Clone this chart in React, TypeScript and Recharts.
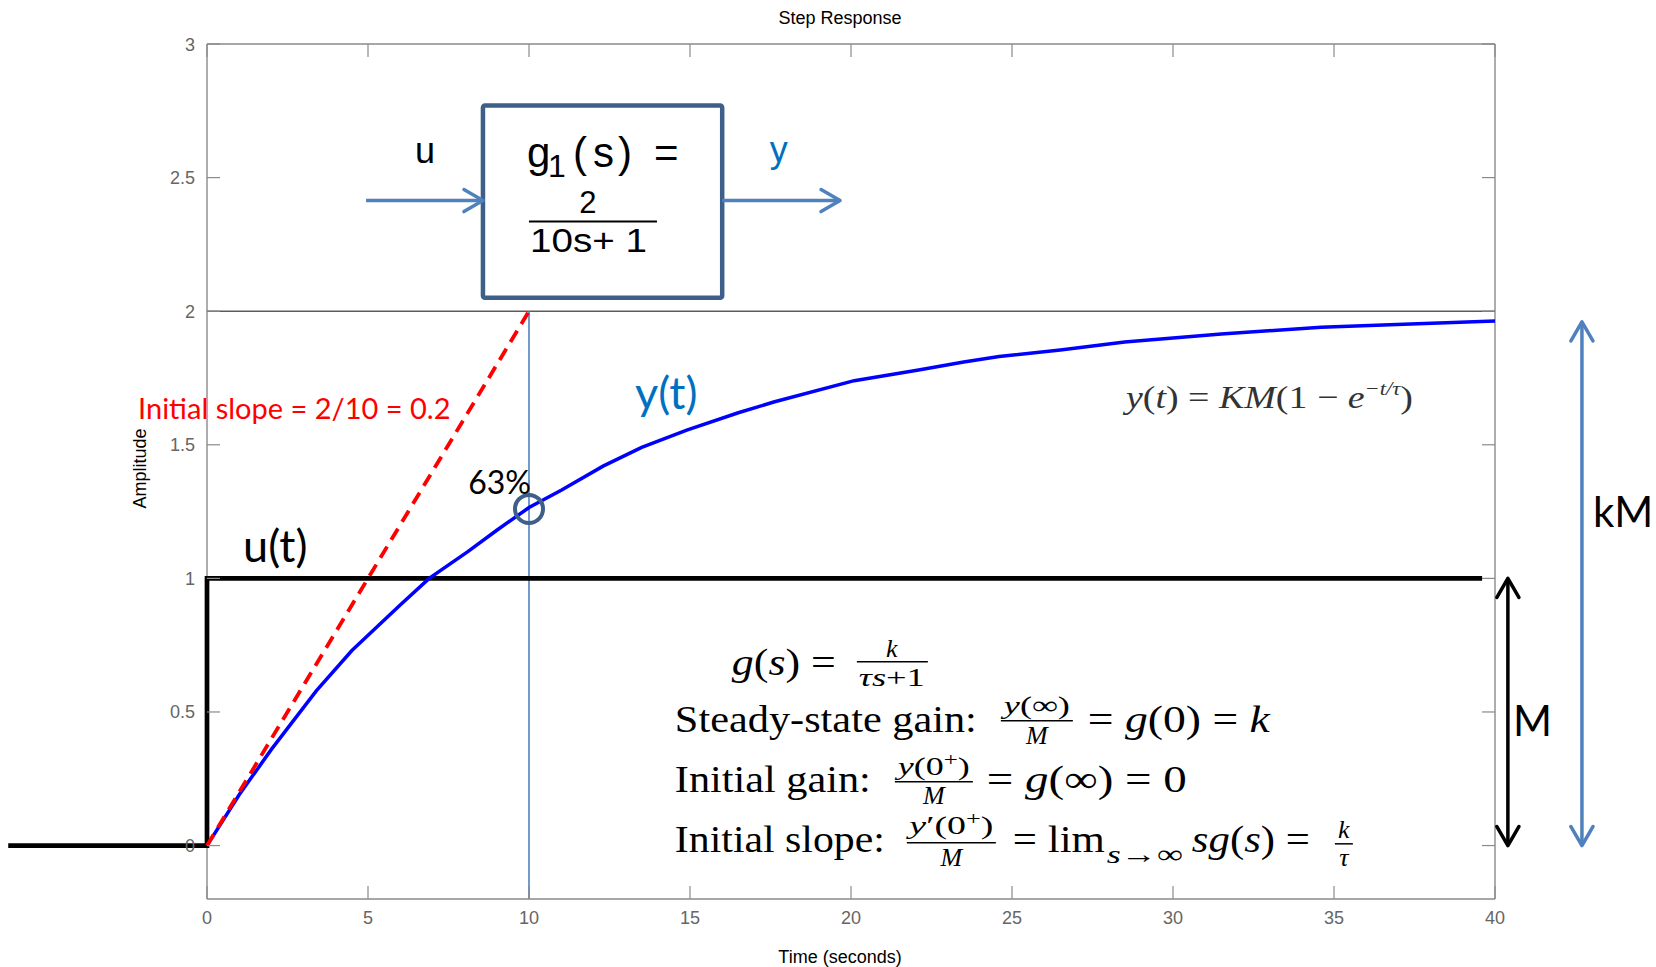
import { LineChart, Line, XAxis, YAxis, ReferenceLine, ReferenceDot, ReferenceArea } from 'recharts'

// first-order step response, g1(s) = 2 / (10s + 1), sampled off the MATLAB plot
const RESPONSE_T = [0, 1, 2, 3.4, 4.5, 6, 6.9, 8.1, 9, 10, 11, 12.3, 13.5, 14.9, 16.5, 17.6, 20.1, 22.1, 23.5, 24.6, 26.5, 28.5, 31.5, 34.6, 37.6, 40]
const RESPONSE_Y = [0, 0.19, 0.36, 0.58, 0.73, 0.9, 1.0, 1.1, 1.18, 1.265, 1.33, 1.42, 1.49, 1.555, 1.62, 1.66, 1.74, 1.78, 1.81, 1.83, 1.855, 1.885, 1.915, 1.94, 1.953, 1.963]

// unit step input u(t)
const STEP_T = [0, 0, 39.6]
const STEP_U = [0, 1, 1]
const STEP_TAIL_T = -6.1

// tangent at t = 0
const SLOPE_T = [0, 10]
const SLOPE_Y = [0, 2]

const TAU = 10
const GAIN_LEVEL = 2
const POINT_63 = 1.26
const FINAL_VALUE = 1.96
const STEP_LEVEL = 1

const X_TICKS = [0, 5, 10, 15, 20, 25, 30, 35, 40]
const Y_TICKS = [0, 0.5, 1, 1.5, 2, 2.5, 3]
const X_DOMAIN = [0, 40]
const Y_DOMAIN = [-0.2, 3]

const response = RESPONSE_T.map((t, i) => ({ t, y: RESPONSE_Y[i] }))
const step = STEP_T.map((t, i) => ({ t, u: STEP_U[i] }))
const slope = SLOPE_T.map((t, i) => ({ t, s: SLOPE_Y[i] }))

const W = 1656
const H = 967
const PLOT_TOP = 44
const PLOT_RIGHT = 1495
const Y_AXIS_W = 207
const X_AXIS_H = 68
const TICK_LEN = 13

const SANS = '"Liberation Sans", Arial, Helvetica, sans-serif'
const SERIF = '"Liberation Serif", "Times New Roman", serif'
const HAND = 'Lato, "Open Sans", sans-serif'

const FRAME = '#8a8a8a'
const TICK_TEXT = '#666666'
const ARROW_BLUE = '#4f81bd'
const TEXT_BLUE = '#0070c0'
const BOX_BLUE = '#3e5f8a'

function XTick({ x, y, payload }: any) {
  return (
    <g>
      <line x1={x} x2={x} y1={y} y2={y - TICK_LEN} stroke={FRAME} strokeWidth={1.2} />
      <line x1={x} x2={x} y1={PLOT_TOP} y2={PLOT_TOP + TICK_LEN} stroke={FRAME} strokeWidth={1.2} />
      <text x={x} y={y + 25} textAnchor="middle" fontSize={18} fill={TICK_TEXT} fontFamily={SANS}>
        {payload.value}
      </text>
    </g>
  )
}

function YTick({ x, y, payload }: any) {
  return (
    <g>
      <line x1={x} x2={x + TICK_LEN} y1={y} y2={y} stroke={FRAME} strokeWidth={1.2} />
      <line x1={PLOT_RIGHT - TICK_LEN} x2={PLOT_RIGHT} y1={y} y2={y} stroke={FRAME} strokeWidth={1.2} />
      <text x={x - 12} y={y + 6.5} textAnchor="end" fontSize={18} fill={TICK_TEXT} fontFamily={SANS}>
        {payload.value}
      </text>
    </g>
  )
}

function TimeLabel({ viewBox }: any) {
  return (
    <text x={viewBox.x + viewBox.width / 2 - 11} y={viewBox.y + 64} textAnchor="middle" fontSize={18} fontFamily={SANS} fill="#000">
      Time (seconds)
    </text>
  )
}

function AmplitudeLabel({ viewBox }: any) {
  const cy = viewBox.y + viewBox.height / 2 - 3
  return (
    <text transform={`translate(146,${cy}) rotate(-90)`} textAnchor="middle" fontSize={18} fontFamily={SANS} fill="#000">
      Amplitude
    </text>
  )
}

// straight arrow with open V heads, drawn between the segment's end points
function arrow(color: string, width: number, both: boolean) {
  return (p: any) => {
    const { x1, y1, x2, y2 } = p
    const a = Math.atan2(y2 - y1, x2 - x1)
    const head = (x: number, y: number, dir: number) => {
      const len = 19
      const half = 11
      const bx = x - len * Math.cos(dir)
      const by = y - len * Math.sin(dir)
      const nx = -Math.sin(dir) * half
      const ny = Math.cos(dir) * half
      return `M${bx + nx},${by + ny}L${x},${y}L${bx - nx},${by - ny}`
    }
    let d = head(x2, y2, a)
    if (both) d += head(x1, y1, a + Math.PI)
    return (
      <g>
        <line x1={x1} y1={y1} x2={x2} y2={y2} stroke={color} strokeWidth={width} />
        <path d={d} fill="none" stroke={color} strokeWidth={width} strokeLinecap="round" strokeLinejoin="round" />
      </g>
    )
  }
}

function note(text: string, size: number, color: string, family = HAND) {
  return (p: any) => (
    <text x={p.cx} y={p.cy} fontSize={size} fill={color} fontFamily={family}>
      {text}
    </text>
  )
}

// transfer-function block: frame plus g1(s) = 2 / (10s + 1)
function TransferBlock(p: any) {
  const { x, y, width, height } = p
  return (
    <g fontFamily={SANS} fill="#000">
      <rect x={x} y={y} width={width} height={height} rx={2} fill="#fff" stroke={BOX_BLUE} strokeWidth={4.5} />
      <text y={y + 62} fontSize={42}>
        <tspan x={x + 44}>g</tspan>
        <tspan x={x + 65} dy={10} fontSize={32}>1</tspan>
        <tspan x={x + 90} dy={-10}>(</tspan>
        <tspan x={x + 110}>s</tspan>
        <tspan x={x + 135}>)</tspan>
        <tspan x={x + 171}>=</tspan>
      </text>
      <text x={x + 105} y={y + 108} fontSize={31} textAnchor="middle">2</text>
      <line x1={x + 46} x2={x + 174} y1={y + 116} y2={y + 116} stroke="#000" strokeWidth={2} />
      <text x={x + 105.5} y={y + 147} fontSize={34} textAnchor="middle" textLength={117} lengthAdjust="spacingAndGlyphs">
        10s+ 1
      </text>
    </g>
  )
}

function Equations(p: any) {
  const it = 'italic'
  const sm = 26
  return (
    <g transform={`translate(${p.cx},${p.cy})`} fontFamily={SERIF} fill="#000">
      <text x={57} y={0} fontSize={38} textLength={104} lengthAdjust="spacingAndGlyphs">
        <tspan fontStyle={it}>g</tspan>(<tspan fontStyle={it}>s</tspan>) =
      </text>
      <text x={217} y={-18} fontSize={sm} textAnchor="middle" fontStyle={it}>k</text>
      <line x1={182} x2={253} y1={-13} y2={-13} stroke="#000" strokeWidth={1.5} />
      <text x={217} y={11} fontSize={sm} textAnchor="middle" textLength={66} lengthAdjust="spacingAndGlyphs">
        <tspan fontStyle={it}>τs</tspan>+1
      </text>

      <text x={0} y={57} fontSize={38} textLength={302} lengthAdjust="spacingAndGlyphs">Steady-state gain:</text>
      <text x={362} y={39} fontSize={sm} textAnchor="middle" textLength={66} lengthAdjust="spacingAndGlyphs">
        <tspan fontStyle={it}>y</tspan>(∞)
      </text>
      <line x1={326} x2={398} y1={46} y2={46} stroke="#000" strokeWidth={1.5} />
      <text x={362} y={69} fontSize={sm} textAnchor="middle" fontStyle={it}>M</text>
      <text x={413} y={57} fontSize={38} textLength={182} lengthAdjust="spacingAndGlyphs">
        = <tspan fontStyle={it}>g</tspan>(0) = <tspan fontStyle={it}>k</tspan>
      </text>

      <text x={0} y={117} fontSize={38} textLength={196} lengthAdjust="spacingAndGlyphs">Initial gain:</text>
      <text x={259} y={100} fontSize={sm} textAnchor="middle" textLength={72} lengthAdjust="spacingAndGlyphs">
        <tspan fontStyle={it}>y</tspan>(0<tspan dy={-9} fontSize={18}>+</tspan>
        <tspan dy={9}>)</tspan>
      </text>
      <line x1={220} x2={298} y1={107} y2={107} stroke="#000" strokeWidth={1.5} />
      <text x={259} y={129} fontSize={sm} textAnchor="middle" fontStyle={it}>M</text>
      <text x={312} y={117} fontSize={38} textLength={200} lengthAdjust="spacingAndGlyphs">
        = <tspan fontStyle={it}>g</tspan>(∞) = 0
      </text>

      <text x={0} y={177} fontSize={38} textLength={210} lengthAdjust="spacingAndGlyphs">Initial slope:</text>
      <text x={276.5} y={159} fontSize={sm} textAnchor="middle" textLength={84} lengthAdjust="spacingAndGlyphs">
        <tspan fontStyle={it}>y</tspan>′(0<tspan dy={-9} fontSize={18}>+</tspan>
        <tspan dy={9}>)</tspan>
      </text>
      <line x1={232} x2={321} y1={168} y2={168} stroke="#000" strokeWidth={1.5} />
      <text x={276.5} y={191} fontSize={sm} textAnchor="middle" fontStyle={it}>M</text>
      <text x={338} y={177} fontSize={38} textLength={92} lengthAdjust="spacingAndGlyphs">= lim</text>
      <text x={432} y={188} fontSize={sm} textLength={76} lengthAdjust="spacingAndGlyphs">
        <tspan fontStyle={it}>s</tspan>→∞
      </text>
      <text x={517} y={177} fontSize={38} textLength={118} lengthAdjust="spacingAndGlyphs">
        <tspan fontStyle={it}>sg</tspan>(<tspan fontStyle={it}>s</tspan>) =
      </text>
      <text x={669} y={163} fontSize={sm} textAnchor="middle" fontStyle={it}>k</text>
      <line x1={660} x2={678} y1={169} y2={169} stroke="#000" strokeWidth={1.5} />
      <text x={669} y={191} fontSize={sm} textAnchor="middle" fontStyle={it}>τ</text>
    </g>
  )
}

function ResponseFormula(p: any) {
  const it = 'italic'
  return (
    <text x={p.cx} y={p.cy} fontSize={32} fill="#333" fontFamily={SERIF} textLength={287} lengthAdjust="spacingAndGlyphs">
      <tspan fontStyle={it}>y</tspan>(<tspan fontStyle={it}>t</tspan>) = <tspan fontStyle={it}>KM</tspan>(1 − <tspan fontStyle={it}>e</tspan>
      <tspan dy={-13} fontSize={19} fontStyle={it}>−t/τ</tspan>
      <tspan dy={13}>)</tspan>
    </text>
  )
}

export default function App() {
  return (
    <div style={{ position: 'absolute', left: 0, top: 0, width: W, height: H, background: '#fff' }}>
      <div
        style={{
          position: 'absolute',
          left: 700,
          top: 9,
          width: 280,
          textAlign: 'center',
          fontFamily: SANS,
          fontSize: 18,
          lineHeight: '18px',
          color: '#000',
        }}
      >
        Step Response
      </div>
      <LineChart width={W} height={H} margin={{ top: PLOT_TOP, right: W - PLOT_RIGHT, bottom: 0, left: 0 }}>
        <XAxis
          dataKey="t"
          type="number"
          domain={X_DOMAIN}
          ticks={X_TICKS}
          interval={0}
          height={X_AXIS_H}
          axisLine={{ stroke: FRAME, strokeWidth: 1.4 }}
          tickLine={false}
          tickSize={0}
          tickMargin={0}
          tick={(p: any) => <XTick {...p} />}
          label={(p: any) => <TimeLabel {...p} />}
        />
        <YAxis
          type="number"
          domain={Y_DOMAIN}
          ticks={Y_TICKS}
          interval={0}
          width={Y_AXIS_W}
          axisLine={false}
          tickLine={false}
          tickSize={0}
          tickMargin={0}
          tick={(p: any) => <YTick {...p} />}
          label={(p: any) => <AmplitudeLabel {...p} />}
        />

        {/* box frame; the left edge is left open where the step rise covers it */}
        <ReferenceLine segment={[{ x: 0, y: Y_DOMAIN[0] }, { x: 0, y: 0 }]} stroke={FRAME} strokeWidth={1.4} />
        <ReferenceLine segment={[{ x: 0, y: STEP_LEVEL }, { x: 0, y: Y_DOMAIN[1] }]} stroke={FRAME} strokeWidth={1.4} />
        <ReferenceLine y={Y_DOMAIN[1]} stroke={FRAME} strokeWidth={1.4} />
        <ReferenceLine x={X_DOMAIN[1]} stroke={FRAME} strokeWidth={1.4} />
        <ReferenceLine y={GAIN_LEVEL} stroke="#5c5c5c" strokeWidth={1.5} />
        <ReferenceLine
          segment={[{ x: TAU, y: Y_DOMAIN[0] }, { x: TAU, y: GAIN_LEVEL }]}
          stroke={ARROW_BLUE}
          strokeWidth={1.6}
        />

        {/* block diagram */}
        <ReferenceArea x1={8.57} x2={16} y1={2.05} y2={2.77} ifOverflow="visible" shape={TransferBlock} />
        <ReferenceLine segment={[{ x: 4.94, y: 2.414 }, { x: 8.57, y: 2.414 }]} ifOverflow="visible" shape={arrow(ARROW_BLUE, 3.5, false)} />
        <ReferenceLine segment={[{ x: 16, y: 2.414 }, { x: 19.66, y: 2.414 }]} ifOverflow="visible" shape={arrow(ARROW_BLUE, 3.5, false)} />
        <ReferenceDot x={6.46} y={2.555} r={1} ifOverflow="visible" shape={note('u', 36, '#000', SANS)} />
        <ReferenceDot x={17.48} y={2.558} r={1} ifOverflow="visible" shape={note('y', 36, TEXT_BLUE, SANS)} />

        {/* u(t) for t < 0 */}
        <ReferenceLine
          segment={[{ x: STEP_TAIL_T, y: 0 }, { x: 0, y: 0 }]}
          ifOverflow="visible"
          stroke="#000"
          strokeWidth={4.7}
          strokeLinecap="square"
        />

        <Line data={step} dataKey="u" type="linear" stroke="#000" strokeWidth={4.7} dot={false} activeDot={false} isAnimationActive={false} />
        <Line data={response} dataKey="y" type="linear" stroke="#0000ff" strokeWidth={3.5} dot={false} activeDot={false} isAnimationActive={false} />
        <Line
          data={slope}
          dataKey="s"
          type="linear"
          stroke="#ff0000"
          strokeWidth={3.8}
          strokeDasharray="13 8"
          dot={false}
          activeDot={false}
          isAnimationActive={false}
        />

        <ReferenceDot x={TAU} y={POINT_63} r={14} fill="none" stroke={BOX_BLUE} strokeWidth={4} ifOverflow="visible" />

        {/* M and kM span arrows */}
        <ReferenceLine segment={[{ x: 40.4, y: 0 }, { x: 40.4, y: STEP_LEVEL }]} ifOverflow="visible" shape={arrow('#000', 3.5, true)} />
        <ReferenceLine segment={[{ x: 42.7, y: 0 }, { x: 42.7, y: FINAL_VALUE }]} ifOverflow="visible" shape={arrow(ARROW_BLUE, 3.5, true)} />

        <ReferenceDot x={-2.14} y={1.597} r={1} ifOverflow="visible" shape={note('Initial slope = 2/10 = 0.2', 29, '#ff0000')} />
        <ReferenceDot x={8.11} y={1.316} r={1} ifOverflow="visible" shape={note('63%', 32, '#000')} />
        <ReferenceDot x={1.12} y={1.061} r={1} ifOverflow="visible" shape={note('u(t)', 45, '#000')} />
        <ReferenceDot x={13.29} y={1.634} r={1} ifOverflow="visible" shape={note('y(t)', 45, TEXT_BLUE)} />
        <ReferenceDot x={43.04} y={1.192} r={1} ifOverflow="visible" shape={note('kM', 42, '#000')} />
        <ReferenceDot x={40.56} y={0.41} r={1} ifOverflow="visible" shape={note('M', 42, '#000')} />
        <ReferenceDot x={28.54} y={1.638} r={1} ifOverflow="visible" shape={ResponseFormula} />
        <ReferenceDot x={14.53} y={0.639} r={1} ifOverflow="visible" shape={Equations} />
      </LineChart>
    </div>
  )
}
